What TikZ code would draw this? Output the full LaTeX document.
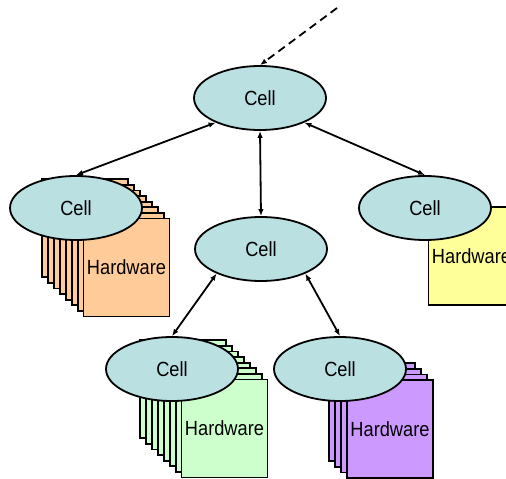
\documentclass[tikz,border=0pt]{standalone}
\usepackage{fontspec}
\newfontfamily\lblfont[FakeStretch=0.89]{Liberation Sans}
\usetikzlibrary{shapes.geometric,arrows.meta}
\definecolor{cellfill}{RGB}{186,224,226}
\definecolor{hworange}{RGB}{255,204,153}
\definecolor{hwyellow}{RGB}{255,255,153}
\definecolor{hwgreen}{RGB}{204,255,204}
\definecolor{hwpurple}{RGB}{204,153,255}
\tikzset{
  cell/.style={ellipse, draw=black, line width=1.8pt, fill=cellfill,
    minimum width=132pt, minimum height=64pt, inner sep=0pt,
    font=\lblfont\fontsize{20.5}{24}\selectfont},
  hwbox/.style={draw=black, line width=1.8pt, minimum width=86pt, minimum height=98pt,
    inner sep=0pt, font=\lblfont\fontsize{20.5}{24}\selectfont},
  link/.style={line width=1.8pt, {Latex[length=7pt,width=5.5pt]}-{Latex[length=7pt,width=5.5pt]}},
  uplink/.style={line width=1.8pt, dash pattern=on 8pt off 5pt, -{Latex[length=7pt,width=5.5pt]}}
}
\newcommand{\hwstack}[5]{% name, x, y (front centre), count of back sheets, colour
  \ifnum#4>0
  \foreach \k in {#4,...,1}{
      \node[hwbox, fill=#5] (#1back\k) at ({#2-5.9*\k},{#3-5.6*\k}) {};
  }
  \fi
  \node[hwbox, fill=#5] (#1) at (#2,#3) {Hardware};
}
\begin{document}
\begin{tikzpicture}[x=1pt,y=-1pt]
\useasboundingbox (0,0) rectangle (506,479);
\clip (0,0) rectangle (506,479);
% hardware stacks
\hwstack{hwA}{126.5}{267.5}{7}{hworange}
\hwstack{hwB}{224.5}{428.5}{7}{hwgreen}
\hwstack{hwC}{390}{429}{3}{hwpurple}
\hwstack{hwD}{471.5}{256}{0}{hwyellow}
% cells
\node[cell] (top) at (260,98) {Cell};
\node[cell] (left) at (76,208) {Cell};
\node[cell] (mid) at (261,249) {Cell};
\node[cell] (right) at (425,208) {Cell};
\node[cell] (bl) at (172,369) {Cell};
\node[cell] (br) at (340,369) {Cell};
% connectors
\coordinate (src) at (337,8);
\draw[uplink] (src) -- (top.north);
\draw[link] (top.209) -- (left.north);
\draw[link] (top.south) -- (mid.north);
\draw[link] (top.331) -- (right.north);
\draw[link] (mid.209) -- (bl.north);
\draw[link] (mid.331) -- (br.north);
\end{tikzpicture}
\end{document}
